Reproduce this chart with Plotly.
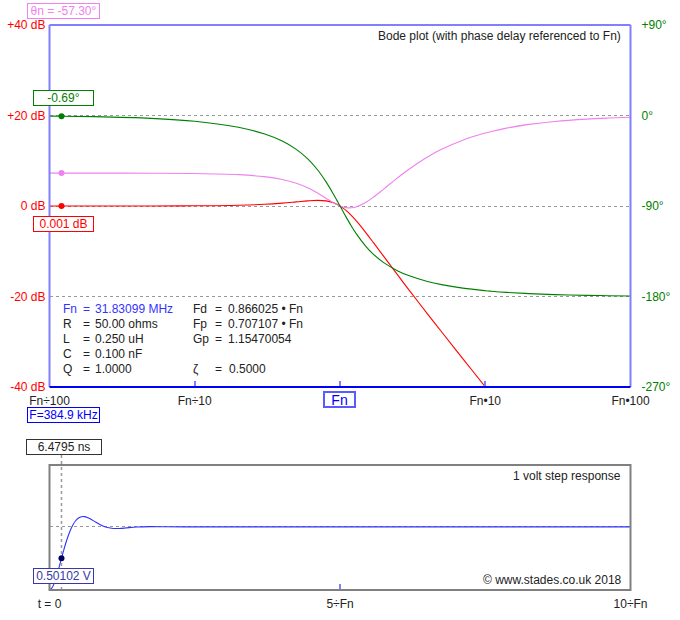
import plotly.graph_objects as go

# ---------------- data ----------------
FN_MHZ = 31.83099
CURSOR_RATIO = 0.012092          # F / Fn  (F = 384.9 kHz)
CURSOR_TAU = 0.20625             # t * Fn  (t = 6.4795 ns)

freq_ratio = [0.01, 0.0121, 0.02, 0.05, 0.1, 0.2, 0.3, 0.4, 0.5, 0.6, 0.7, 0.8, 0.9, 0.95,
              1.0, 1.05, 1.1, 1.2, 1.3, 1.5, 1.7, 2.0, 2.5, 3.0, 4.0, 5.0, 7.0, 10.0, 11.0,
              14.0, 20.0, 30.0, 50.0, 70.0, 100.0]
gain_db = [0.0004, 0.0006, 0.0017, 0.011, 0.043, 0.170, 0.371, 0.627, 0.902, 1.137, 1.249,
           1.137, 0.726, 0.400, 0.0, -0.465, -0.983, -2.131, -3.357, -5.812, -8.104, -11.139,
           -15.291, -18.633, -23.820, -27.789, -33.716, -39.957, -41.62, -45.8, -52.03,
           -59.08, -67.96, -73.8, -80.0]
phase_deg = [-0.573, -0.693, -1.146, -2.870, -5.768, -11.768, -18.246, -25.46, -33.69,
             -43.15, -53.92, -65.77, -78.08, -84.14, -90.0, -95.58, -100.81, -110.14,
             -117.96, -129.81, -138.03, -146.31, -154.54, -159.44, -165.07, -168.23,
             -171.70, -174.23, -174.76, -175.89, -177.13, -178.09, -178.85, -179.18, -179.43]
phase_delay_deg = [-57.30, -57.31, -57.31, -57.39, -57.68, -58.84, -60.82, -63.65, -67.38,
                   -71.92, -77.03, -82.21, -86.76, -88.57, -90.0, -91.03, -91.65, -91.78,
                   -90.74, -86.54, -81.19, -73.15, -61.82, -53.15, -41.27, -33.65, -24.53,
                   -17.42, -15.89, -12.56, -8.857, -5.936, -3.577, -2.560, -1.794]

cursor_gain_db = 0.001
cursor_phase_deg = -0.69
cursor_delay_deg = -57.30

step_tau = [0.0, 0.05, 0.1, 0.15, 0.20625, 0.25, 0.3, 0.35, 0.4, 0.45, 0.5, 0.577, 0.6,
            0.65, 0.7, 0.8, 0.9, 1.0, 1.1, 1.155, 1.2, 1.3, 1.5, 1.732, 2.0, 2.5, 3.0,
            4.0, 5.0, 7.0, 10.0]
step_v = [0.0, 0.0443, 0.1568, 0.3099, 0.50102, 0.6475, 0.7993, 0.9274, 1.0270, 1.0971,
          1.1410, 1.1632, 1.1617, 1.1486, 1.1268, 1.0723, 1.0226, 0.9898, 0.9752, 0.9734,
          0.9744, 0.9812, 0.9978, 1.0043, 1.0013, 0.9996, 1.0001, 1.0, 1.0, 1.0, 1.0]

x_tick_vals = [0.01, 0.1, 1, 10, 100]
x_tick_text = ["Fn÷100", "Fn÷10", "", "Fn•10", "Fn•100"]
db_tick_vals = [40, 20, 0, -20, -40]
db_tick_text = ["+40 dB", "+20 dB", "0 dB", "-20 dB", "-40 dB"]
ph_tick_vals = [90, 0, -90, -180, -270]
ph_tick_text = ["+90°", "0°", "-90°", "-180°", "-270°"]
t_tick_vals = [0, 5, 10]
t_tick_text = ["t = 0", "5÷Fn", "10÷Fn"]

param_left = [("Fn", "31.83099 MHz"), ("R", "50.00 ohms"), ("L", "0.250 uH"),
              ("C", "0.100 nF"), ("Q", "1.0000")]
param_right = [("Fd", "0.866025 • Fn"), ("Fp", "0.707107 • Fn"), ("Gp", "1.15470054"),
               ("", ""), ("ζ", "0.5000")]

# ---------------- layout helpers ----------------
W, H = 680, 620
FONT = "Liberation Sans, Arial, sans-serif"


def px(x):
    return x / W


def py(y):
    return 1 - y / H


RED = "#ff0000"
GREEN = "#008000"
PINK = "#ee82ee"
BLUE = "#0000ff"
LBLUE = "#8080ff"
TXT = "#222222"

fig = go.Figure()

fig.add_trace(go.Scatter(x=freq_ratio, y=gain_db, mode="lines", line=dict(color=RED, width=1.1, shape="spline"),
                         xaxis="x", yaxis="y", showlegend=False, hoverinfo="skip"))
fig.add_trace(go.Scatter(x=freq_ratio, y=phase_delay_deg, mode="lines",
                         line=dict(color=PINK, width=1.1, shape="spline"),
                         xaxis="x", yaxis="y2", showlegend=False, hoverinfo="skip"))
fig.add_trace(go.Scatter(x=freq_ratio, y=phase_deg, mode="lines", line=dict(color=GREEN, width=1.1, shape="spline"),
                         xaxis="x", yaxis="y2", showlegend=False, hoverinfo="skip"))
# cursor dots
fig.add_trace(go.Scatter(x=[CURSOR_RATIO], y=[cursor_gain_db], mode="markers",
                         marker=dict(color=RED, size=6), xaxis="x", yaxis="y", showlegend=False))
fig.add_trace(go.Scatter(x=[CURSOR_RATIO, CURSOR_RATIO], y=[cursor_phase_deg, cursor_delay_deg], mode="markers",
                         marker=dict(color=[GREEN, PINK], size=6), xaxis="x", yaxis="y2", showlegend=False))
# step response
fig.add_trace(go.Scatter(x=step_tau, y=step_v, mode="lines", line=dict(color="#3030ff", width=1.1, shape="spline"),
                         xaxis="x3", yaxis="y3", showlegend=False, hoverinfo="skip"))
fig.add_trace(go.Scatter(x=[CURSOR_TAU], y=[step_v[step_tau.index(CURSOR_TAU)]], mode="markers",
                         marker=dict(color="#000060", size=6), xaxis="x3", yaxis="y3", showlegend=False))

XDOM = [px(49.5), px(630.5)]
tickfont = dict(family=FONT, size=12, color=TXT)

fig.update_layout(
    width=W, height=H, margin=dict(l=0, r=0, t=0, b=0, autoexpand=False),
    paper_bgcolor="white", plot_bgcolor="white",
    font=dict(family=FONT, size=12, color=TXT),
    xaxis=dict(type="log", range=[-2, 2], domain=XDOM, anchor="y", showgrid=False, zeroline=False,
               tickvals=x_tick_vals, ticktext=x_tick_text, ticks="inside", ticklen=6, tickwidth=2,
               tickcolor=LBLUE, tickfont=tickfont, ticklabelstandoff=5, showline=False, automargin=False),
    yaxis=dict(domain=[py(387), py(25)], range=[-40, 40], tickvals=db_tick_vals, ticktext=db_tick_text,
               tickfont=dict(family=FONT, size=12, color=RED), showgrid=True, griddash="dot",
               gridcolor="#999999", gridwidth=1, zeroline=False, ticks="", ticklabelstandoff=3,
               automargin=False),
    yaxis2=dict(overlaying="y", side="right", anchor="x", range=[-270, 90], tickvals=ph_tick_vals,
                ticktext=ph_tick_text, tickfont=dict(family=FONT, size=12, color=GREEN),
                showgrid=False, zeroline=False, ticks="", ticklabelstandoff=10, automargin=False),
    xaxis3=dict(range=[0, 10], domain=XDOM, anchor="y3", showgrid=False, zeroline=False,
                tickvals=t_tick_vals, ticktext=t_tick_text, ticks="inside", ticklen=6, tickwidth=2,
                tickcolor=LBLUE, tickfont=tickfont, ticklabelstandoff=5, automargin=False),
    yaxis3=dict(domain=[py(590), py(465)], range=[0, 1.98], tickvals=[1], showticklabels=False,
                showgrid=True, griddash="dot", gridcolor="#999999", zeroline=False, ticks="",
                automargin=False),
)

shapes = []
# top plot borders
shapes.append(dict(type="line", xref="x domain", yref="y domain", x0=0, x1=1, y0=1, y1=1,
                   line=dict(color=LBLUE, width=2), layer="below"))
shapes.append(dict(type="line", xref="x domain", yref="y domain", x0=0, x1=0, y0=0, y1=1,
                   line=dict(color=LBLUE, width=2)))
shapes.append(dict(type="line", xref="x domain", yref="y domain", x0=1, x1=1, y0=0, y1=1,
                   line=dict(color=LBLUE, width=2)))
shapes.append(dict(type="line", xref="x domain", yref="y domain", x0=0, x1=1, y0=0, y1=0,
                   line=dict(color=BLUE, width=2)))
# bottom plot border
shapes.append(dict(type="rect", xref="x3 domain", yref="y3 domain", x0=0, x1=1, y0=0, y1=1,
                   line=dict(color="#808080", width=2)))
# cursor lines
shapes.append(dict(type="line", xref="x", yref="paper", x0=-1.9175, x1=-1.9175, y0=py(408), y1=py(18),
                   line=dict(color="#999999", width=1.5, dash="dot"), layer="below"))
shapes.append(dict(type="line", xref="x3", yref="paper", x0=CURSOR_TAU, x1=CURSOR_TAU, y0=py(590), y1=py(454),
                   line=dict(color="#999999", width=1.5, dash="dot"), layer="below"))
fig.update_layout(shapes=shapes)

ann = []


def box(text, x, y, color, border, w, size=12, h=12, bw=1):
    ann.append(dict(text=text, x=px(x), y=py(y), xref="paper", yref="paper", showarrow=False,
                    font=dict(family=FONT, size=size, color=color), bgcolor="white",
                    bordercolor=border, borderwidth=bw, borderpad=1, width=w, height=h,
                    xanchor="center", yanchor="middle"))


def txt(text, x, y, color=TXT, anchor="left", size=12):
    ann.append(dict(text=text, x=px(x), y=py(y), xref="paper", yref="paper", showarrow=False,
                    font=dict(family=FONT, size=size, color=color), xanchor=anchor, yanchor="middle"))


box(f"θn = {cursor_delay_deg:.2f}°", 63.5, 10.5, PINK, PINK, 69)
box(f"{cursor_phase_deg:.2f}°", 63.5, 98, GREEN, GREEN, 57)
box(f"{cursor_gain_db:.3f} dB", 63.5, 224, RED, RED, 57)
box(f"F={CURSOR_RATIO * FN_MHZ * 1000:.1f} kHz", 63.5, 415, BLUE, BLUE, 69)
box("Fn", 339.5, 399.5, BLUE, "#5a5aff", 27, size=14, h=11, bw=2)
box("6.4795 ns", 64, 447, TXT, "#333333", 72)
box("0.50102 V", 63.5, 576, "#3838a8", "#3838a8", 57)

txt("Bode plot (with phase delay referenced to Fn)", 623, 36, anchor="right")
txt("1 volt step response", 623, 476, anchor="right")
txt("© www.stades.co.uk 2018", 624, 580, anchor="right")

rows_y = [308.5, 323.5, 339, 354, 369]
for i, (k, v) in enumerate(param_left):
    c = "#3333ff" if i == 0 else TXT
    txt(k, 60.5, rows_y[i], c)
    txt("=", 80.5, rows_y[i], c)
    txt(v, 93, rows_y[i], c)
for i, (k, v) in enumerate(param_right):
    if not k:
        continue
    txt(k, 190.5, rows_y[i])
    txt("=", 212.5, rows_y[i])
    txt(v, 226 if k != "ζ" else 227.5, rows_y[i])

fig.update_layout(annotations=ann)
# remove the default 8px page margin so the figure sits at the window's top-left corner
fig.write_html("out.html", config={"displayModeBar": False},
               post_script="document.documentElement.style.margin='0';document.body.style.margin='0';"
                           "document.body.style.overflow='hidden';")
